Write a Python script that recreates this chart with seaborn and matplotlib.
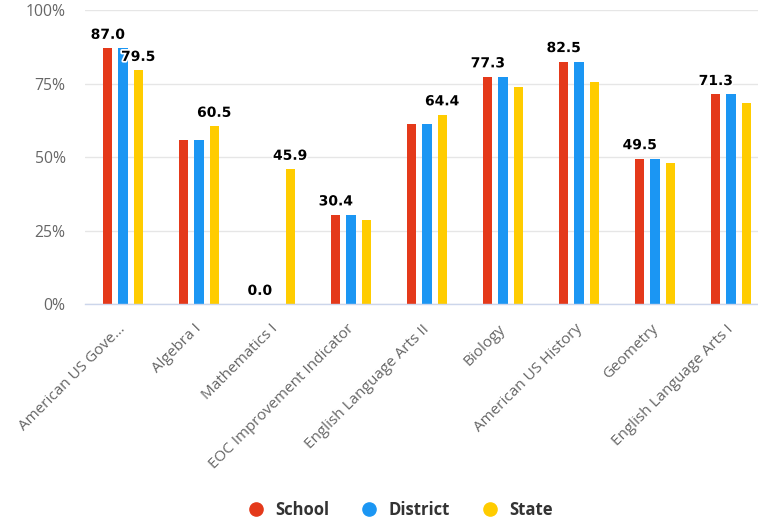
import numpy as np
import pandas as pd
import seaborn as sns
import matplotlib
matplotlib.use("Agg")
import matplotlib.pyplot as plt
from matplotlib import patheffects as pe
from matplotlib.lines import Line2D
from matplotlib.transforms import Bbox, ScaledTranslation

categories = ["American US Gove...", "Algebra I", "Mathematics I",
              "EOC Improvement Indicator", "English Language Arts II", "Biology",
              "American US History", "Geometry", "English Language Arts I"]
series_names = ["School", "District", "State"]
school = [87.0, 55.7, 0.0, 30.4, 61.3, 77.3, 82.5, 49.5, 71.3]
district = [87.0, 55.7, 0.0, 30.4, 61.3, 77.3, 82.5, 49.5, 71.3]
state = [79.5, 60.5, 45.9, 28.8, 64.4, 73.8, 75.5, 48.1, 68.4]
y_ticks = [0, 25, 50, 75, 100]
colors = ["#E4391A", "#1B96F3", "#FFCC00"]

sns.set_style("white")
plt.rcParams["font.family"] = ["Open Sans", "DejaVu Sans"]

rows = []
for name, vals in zip(series_names, [school, district, state]):
    for c, v in zip(categories, vals):
        rows.append({"Subject": c, "Series": name, "Value": v})
df = pd.DataFrame(rows)

W, H = 758, 520
fig = plt.figure(figsize=(W / 100, H / 100), dpi=100)
ax = fig.add_axes([85 / W, 1 - 304.3 / H, (769 - 85) / W, (304.3 - 10) / H])

sns.barplot(data=df, x="Subject", y="Value", hue="Series", hue_order=series_names,
            order=categories, palette=colors, width=0.6, gap=0.4, saturation=1,
            errorbar=None, legend=False, ax=ax, linewidth=0)

ax.set_ylim(0, 100)
ax.set_xlim(-0.5, len(categories) - 0.5)
ax.set_yticks(y_ticks)
ax.set_yticklabels([f"{v}%" for v in y_ticks])
ax.set_xlabel("")
ax.set_ylabel("")
ax.yaxis.grid(True, color="#e6e6e6", linewidth=1)
ax.set_axisbelow(True)
for s in ["top", "right", "left"]:
    ax.spines[s].set_visible(False)
ax.spines["bottom"].set_color("#ccd6eb")
ax.spines["bottom"].set_linewidth(1)
ax.tick_params(axis="y", length=0, pad=14, labelsize=11.3, labelcolor="#666666")
ax.set_xticks(range(len(categories)))
ax.set_xticklabels(categories, rotation=45, ha="right", va="baseline",
                   rotation_mode="anchor")
ax.tick_params(axis="x", which="major", length=0, pad=18, labelsize=11, labelcolor="#666666")
shift = ScaledTranslation(3 / 100, 0, fig.dpi_scale_trans)
for lbl in ax.get_xticklabels():
    lbl.set_transform(lbl.get_transform() + shift)
ax.set_xticks(np.arange(-0.5, len(categories), 1), minor=True)
ax.tick_params(axis="x", which="minor", length=7.2, width=1, color="#ccd6eb")

# data labels, hiding lower-ranked overlapping ones (fixed label box height)
items = []
for si, cont in enumerate(ax.containers):
    for ci, bar in enumerate(cont):
        v = bar.get_height()
        xc = bar.get_x() + bar.get_width() / 2
        t = ax.annotate(f"{v:.1f}", (xc, v), xytext=(0, 6.8), textcoords="offset points",
                        ha="center", va="baseline", fontsize=10, fontweight="bold",
                        family="DejaVu Sans", color="#000000", annotation_clip=False,
                        path_effects=[pe.withStroke(linewidth=2.5, foreground="white")])
        items.append((v, si, ci, t))
fig.canvas.draw()
r = fig.canvas.get_renderer()
order = sorted(items, key=lambda it: (-it[0], it[1], it[2]))
kept = []
box_h = 21.3
for v, si, ci, t in order:
    bb = t.get_window_extent(r)
    yc = (bb.y0 + bb.y1) / 2
    box = Bbox([[bb.x0 - 2, yc - box_h / 2], [bb.x1 + 2, yc + box_h / 2]])
    if any(box.overlaps(k) for k in kept):
        t.set_visible(False)
    else:
        kept.append(box)

handles = [Line2D([0], [0], marker="o", linestyle="", markersize=9.5,
                  markerfacecolor=c, markeredgecolor=c) for c in colors]
leg = fig.legend(handles, series_names, loc="center", bbox_to_anchor=(400 / W, 10 / H),
                 ncol=3, frameon=False, handlelength=1.0, handletextpad=0.65,
                 columnspacing=1.9, prop={"family": "Open Sans", "weight": "bold", "size": 12})
for txt in leg.get_texts():
    txt.set_color("#333333")

fig.savefig("out.png", dpi=100)
